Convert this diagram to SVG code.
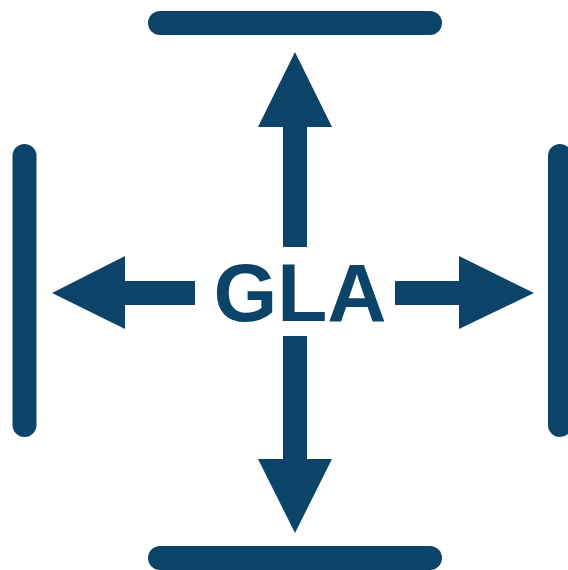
<svg xmlns="http://www.w3.org/2000/svg" width="568" height="570" viewBox="0 0 568 570">
<style>
.bar{stroke:#0b4468;stroke-width:24;stroke-linecap:round;fill:none}
.arr{fill:#0b4468}
.lbl{font-family:"Liberation Sans",Arial,sans-serif;font-weight:bold;font-size:82px;fill:#0b4468}
</style>
<rect width="568" height="570" fill="#ffffff"/>
<g id="top-bar"><line class="bar" x1="160" y1="23" x2="430" y2="23"/></g>
<g id="bottom-bar"><line class="bar" x1="160" y1="558" x2="430" y2="558"/></g>
<g id="left-bar"><line class="bar" x1="24.5" y1="156" x2="24.5" y2="425"/></g>
<g id="right-bar"><line class="bar" x1="560" y1="156" x2="560" y2="425"/></g>
<g id="connectors">
<polygon class="arr" points="295,52 332,127 307,127 307,247 283,247 283,127 258,127"/>
<polygon class="arr" points="295,533 332,459 307,459 307,336 283,336 283,459 258,459"/>
<polygon class="arr" points="52,293 125,256 125,281 195,281 195,305 125,305 125,329"/>
<polygon class="arr" points="534,293 459,256 459,281 395,281 395,305 459,305 459,329"/>
</g>
<g id="gla"><text class="lbl" x="300" y="321" text-anchor="middle">GLA</text></g>
</svg>
